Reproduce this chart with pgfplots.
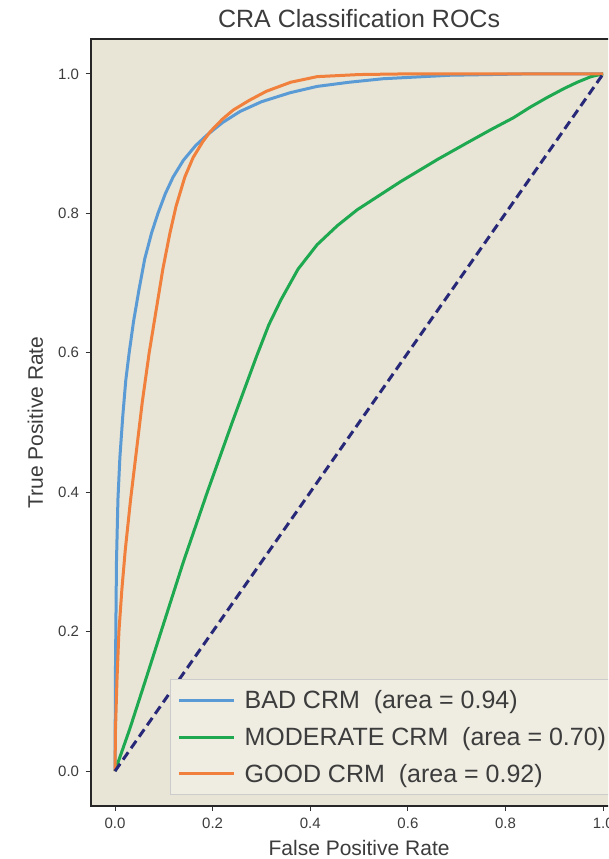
\documentclass[border=0pt]{standalone}
\usepackage{pgfplots}
\pgfplotsset{compat=1.18}
\usepackage{fontspec}
\setmainfont{Liberation Sans}

\definecolor{bgcol}{RGB}{232,229,214}
\definecolor{cblue}{RGB}{91,155,213}
\definecolor{cgreen}{RGB}{30,168,80}
\definecolor{corange}{RGB}{240,128,60}
\definecolor{cnavy}{RGB}{40,40,120}
\definecolor{txt}{RGB}{60,60,60}

\begin{document}
\begin{tikzpicture}
% picture is cut at the right, as in the reference
\useasboundingbox (-90.6pt,-53pt) rectangle (517.4pt,806pt);
\clip (-90.6pt,-53pt) rectangle (517.4pt,806pt);
\begin{axis}[
    at={(0,0)}, anchor=south west,
    scale only axis,
    width=537pt, height=767pt,
    xmin=-0.05, xmax=1.05, ymin=-0.05, ymax=1.05,
    axis background/.style={fill=bgcol},
    axis line style={black!85, line width=2pt},
    xtick={0,0.2,...,1.0}, ytick={0,0.2,...,1.0},
    xtick pos=bottom, ytick pos=left,
    tick align=outside,
    major tick length=5pt,
    tick style={black!80, line width=1pt},
    /pgf/number format/assume math mode=true,
    xticklabel style={/pgf/number format/.cd, fixed, fixed zerofill, precision=1, /tikz/.cd, yshift=-3pt},
    yticklabel style={/pgf/number format/.cd, fixed, fixed zerofill, precision=1, /tikz/.cd, xshift=-3pt},
    ticklabel style={font=\fontsize{15}{18}\selectfont, text=txt},
    title={CRA Classification ROCs},
    title style={font=\fontsize{25}{30}\selectfont, text=txt,
        at={(axis description cs:0.5,1.0183)}, anchor=center},
    xlabel={False Positive Rate},
    ylabel={True Positive Rate},
    xlabel style={at={(axis description cs:0.5,-0.055)}, anchor=center},
    ylabel style={at={(axis description cs:-0.103,0.5)}, anchor=center, rotate=0},
    label style={font=\fontsize{21}{25}\selectfont, text=txt},
    legend style={
        at={(1,0)}, xshift=-12pt, yshift=11pt, anchor=south east,
        fill=bgcol!70!white, draw=black!20, line width=1pt,
        font=\fontsize{25}{29}\selectfont, text=txt,
        row sep=13pt, column sep=7pt, inner xsep=7pt, inner ysep=9pt,
        legend cell align=left
    },
    legend image code/.code={\draw[#1, line width=3pt] (0pt,0pt) -- (55pt,0pt);},
]
\addplot[cblue, line width=3pt] coordinates {
(0,0) (0.001,0.15) (0.003,0.30) (0.006,0.39) (0.010,0.45) (0.016,0.51)
(0.022,0.56) (0.029,0.60) (0.038,0.645) (0.049,0.69) (0.061,0.735)
(0.075,0.772) (0.088,0.80) (0.103,0.828) (0.119,0.852) (0.140,0.876)
(0.165,0.897) (0.188,0.912) (0.220,0.930) (0.256,0.946) (0.300,0.960)
(0.359,0.973) (0.414,0.982) (0.480,0.988) (0.549,0.993) (0.686,0.998)
(0.850,1.0) (1,1)
};
\addlegendentry{BAD CRM~~(area = 0.94)}
\addplot[cgreen, line width=3pt] coordinates {
(0,0) (0.030,0.06) (0.060,0.125) (0.092,0.195) (0.140,0.30) (0.189,0.40)
(0.240,0.50) (0.290,0.595) (0.315,0.64) (0.340,0.676) (0.375,0.72)
(0.414,0.755) (0.455,0.782) (0.496,0.805) (0.584,0.845) (0.660,0.877)
(0.721,0.901) (0.770,0.920) (0.816,0.937) (0.850,0.952) (0.885,0.966)
(0.920,0.979) (0.947,0.988) (0.975,0.996) (1,1)
};
\addlegendentry{MODERATE CRM~~(area = 0.70)}
\addplot[corange, line width=3pt] coordinates {
(0,0) (0.001,0.06) (0.004,0.13) (0.008,0.20) (0.014,0.26) (0.021,0.317)
(0.032,0.39) (0.044,0.46) (0.056,0.53) (0.070,0.60) (0.084,0.66)
(0.098,0.72) (0.112,0.77) (0.125,0.81) (0.143,0.852) (0.160,0.880)
(0.180,0.903) (0.195,0.917) (0.220,0.935) (0.242,0.948) (0.275,0.962)
(0.310,0.975) (0.360,0.988) (0.414,0.996) (0.500,0.999) (0.600,1.0) (1,1)
};
\addlegendentry{GOOD CRM~~(area = 0.92)}
\addplot[cnavy, line width=3pt, dash pattern=on 9pt off 5pt, forget plot] coordinates {
(0,0) (1,1)
};
\end{axis}
\end{tikzpicture}
\end{document}
